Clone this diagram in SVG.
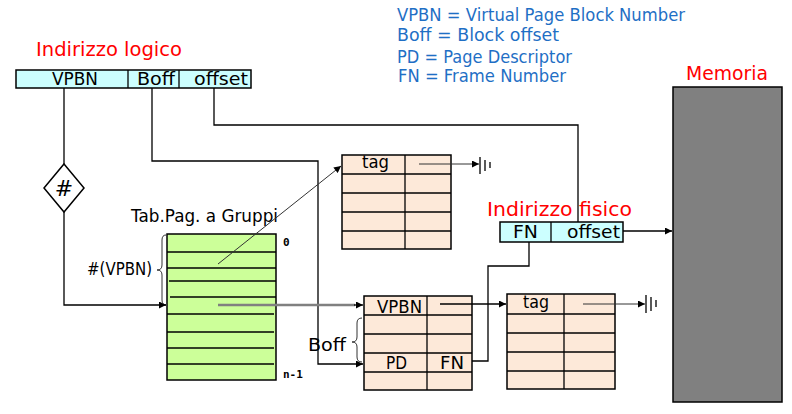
<svg xmlns="http://www.w3.org/2000/svg" width="792" height="414" viewBox="0 0 792 414">
<defs>
<marker id="ah" viewBox="0 0 10 10" refX="10" refY="5" markerWidth="9" markerHeight="7" markerUnits="userSpaceOnUse" orient="auto">
<path d="M0,0 L10,5 L0,10 z" fill="#000"/>
</marker>
</defs>
<style>
text{font-family:"DejaVu Sans","Liberation Sans",sans-serif;fill:#000}
.red{fill:#FF0000;font-size:19.5px}
.blue{fill:#1F6FC5;font-size:18px}
.lbl{font-size:17.5px}
.mono{font-family:"DejaVu Sans Mono","Liberation Mono",monospace;font-size:11px;font-weight:bold}
.box{stroke:#000;stroke-width:1.5}
.cyan{fill:#CCFFFF}
.peach{fill:#FDE9D9}
.green{fill:#CCFF99}
.ln{stroke:#000;stroke-width:1.3;fill:none}
.conn{stroke:#000;stroke-width:1.3;fill:none}
.thin{stroke:#333;stroke-width:1;fill:none}
</style>

<g id="legend">
<text class="blue" x="397" y="21" textLength="288" lengthAdjust="spacingAndGlyphs">VPBN = Virtual Page Block Number</text>
<text class="blue" x="397" y="41" textLength="162" lengthAdjust="spacingAndGlyphs">Boff = Block offset</text>
<text class="blue" x="397" y="63" textLength="175" lengthAdjust="spacingAndGlyphs">PD = Page Descriptor</text>
<text class="blue" x="398" y="82" textLength="168" lengthAdjust="spacingAndGlyphs">FN = Frame Number</text>
</g>

<g id="logical-address">
<text class="red" x="36" y="56" textLength="146" lengthAdjust="spacingAndGlyphs">Indirizzo logico</text>
<rect class="box cyan" x="16" y="70" width="235" height="18"/>
<line class="ln" x1="128" y1="70" x2="128" y2="88"/>
<line class="ln" x1="179" y1="70" x2="179" y2="88"/>
<text class="lbl" x="52" y="85" textLength="46" lengthAdjust="spacingAndGlyphs">VPBN</text>
<text class="lbl" x="137" y="85" textLength="38" lengthAdjust="spacingAndGlyphs">Boff</text>
<text class="lbl" x="194" y="85" textLength="54" lengthAdjust="spacingAndGlyphs">offset</text>
</g>

<g id="hash">
<path class="box" fill="#fff" d="M64,164 L84,188 L64,212 L44,188 z"/>
<text x="64" y="196" font-size="22" text-anchor="middle">#</text>
</g>

<g id="group-table">
<text x="131" y="222" font-size="18" textLength="147" lengthAdjust="spacingAndGlyphs">Tab.Pag. a Gruppi</text>
<rect class="box green" x="167" y="234" width="109" height="146"/>
<g class="ln">
<line x1="167" y1="252" x2="276" y2="252"/>
<line x1="167" y1="268" x2="276" y2="268"/>
<line x1="169" y1="281" x2="276" y2="281"/>
<line x1="170" y1="297" x2="276" y2="297"/>
<line x1="167" y1="314" x2="274" y2="314"/>
<line x1="167" y1="332" x2="274" y2="332"/>
<line x1="167" y1="348" x2="274" y2="348"/>
<line x1="167" y1="364" x2="274" y2="364"/>
</g>
<text class="mono" x="283" y="246">0</text>
<text class="mono" x="283" y="378">n-1</text>
<path class="thin" d="M166,235 Q162,235 162,240 L162,265 Q162,270 157,270 Q162,270 162,275 L162,300 Q162,305 166,305"/>
<text class="lbl" x="87" y="275" textLength="65" lengthAdjust="spacingAndGlyphs">#(VPBN)</text>
</g>

<g id="tag-table-1">
<rect class="box peach" x="342" y="155" width="109" height="94"/>
<g class="ln">
<line x1="342" y1="174" x2="451" y2="174"/>
<line x1="342" y1="193" x2="451" y2="193"/>
<line x1="342" y1="212" x2="451" y2="212"/>
<line x1="342" y1="231" x2="451" y2="231"/>
<line x1="405" y1="155" x2="405" y2="249"/>
</g>
<text class="lbl" x="362" y="168" textLength="27" lengthAdjust="spacingAndGlyphs">tag</text>
</g>

<g id="page-block">
<rect class="box peach" x="364" y="296" width="108" height="94"/>
<g class="ln">
<line x1="364" y1="315" x2="472" y2="315"/>
<line x1="364" y1="334" x2="472" y2="334"/>
<line x1="364" y1="353" x2="472" y2="353"/>
<line x1="364" y1="372" x2="472" y2="372"/>
<line x1="427" y1="296" x2="427" y2="390"/>
</g>
<text class="lbl" x="377" y="313" textLength="45" lengthAdjust="spacingAndGlyphs">VPBN</text>
<text class="lbl" x="386" y="369" textLength="21" lengthAdjust="spacingAndGlyphs">PD</text>
<text class="lbl" x="440" y="369" textLength="24" lengthAdjust="spacingAndGlyphs">FN</text>
<path class="thin" d="M362,318 Q357,318 357,323 L357,337 Q357,342 352,342 Q357,342 357,347 L357,357 Q357,362 362,362"/>
<text class="lbl" x="308" y="351" textLength="38" lengthAdjust="spacingAndGlyphs">Boff</text>
</g>

<g id="tag-table-2">
<rect class="box peach" x="507" y="294" width="108" height="95"/>
<g class="ln">
<line x1="507" y1="314" x2="615" y2="314"/>
<line x1="507" y1="333" x2="615" y2="333"/>
<line x1="507" y1="352" x2="615" y2="352"/>
<line x1="507" y1="371" x2="615" y2="371"/>
<line x1="564" y1="294" x2="564" y2="389"/>
</g>
<text class="lbl" x="523" y="308" textLength="26" lengthAdjust="spacingAndGlyphs">tag</text>
</g>

<g id="physical-address">
<text class="red" x="487" y="216" textLength="145" lengthAdjust="spacingAndGlyphs">Indirizzo fisico</text>
<rect class="box cyan" x="500" y="222" width="123" height="20"/>
<line class="ln" x1="551" y1="222" x2="551" y2="242"/>
<text class="lbl" x="513" y="238" textLength="25" lengthAdjust="spacingAndGlyphs">FN</text>
<text class="lbl" x="567" y="238" textLength="53" lengthAdjust="spacingAndGlyphs">offset</text>
</g>

<g id="memory">
<text class="red" x="686" y="80" textLength="82" lengthAdjust="spacingAndGlyphs">Memoria</text>
<rect class="box" fill="#808080" x="673" y="87" width="109" height="315"/>
</g>

<g id="connectors">
<line class="conn" x1="64" y1="88" x2="64" y2="164"/>
<polyline class="conn" points="64,212 64,305 166,305" marker-end="url(#ah)"/>
<polyline class="conn" points="152,88 152,161 318,161 318,364 363,364" marker-end="url(#ah)"/>
<polyline class="conn" points="214,88 214,125 578,125 578,222"/>
<line class="thin" x1="218" y1="264" x2="341" y2="166" marker-end="url(#ah)"/>
<line x1="218" y1="305" x2="355" y2="305" stroke="#808080" stroke-width="2.5"/>
<line class="conn" x1="354" y1="305" x2="363" y2="305" marker-end="url(#ah)"/>
<line class="thin" x1="419" y1="164" x2="479" y2="164" stroke="#555" marker-end="url(#ah)"/>
<g class="ln">
<line x1="480" y1="157" x2="480" y2="174"/>
<line x1="485" y1="160" x2="485" y2="171"/>
<line x1="490" y1="162" x2="490" y2="168"/>
</g>
<line class="conn" x1="440" y1="304" x2="506" y2="304" marker-end="url(#ah)"/>
<line class="thin" x1="583" y1="304" x2="645" y2="304" stroke="#555" marker-end="url(#ah)"/>
<g class="ln">
<line x1="646" y1="295" x2="646" y2="313"/>
<line x1="651" y1="297" x2="651" y2="311"/>
<line x1="656" y1="300" x2="656" y2="307"/>
</g>
<polyline class="conn" points="472,361 488,361 488,266 529,266 529,242"/>
<line class="conn" x1="623" y1="231" x2="672" y2="231" marker-end="url(#ah)"/>
</g>
</svg>
